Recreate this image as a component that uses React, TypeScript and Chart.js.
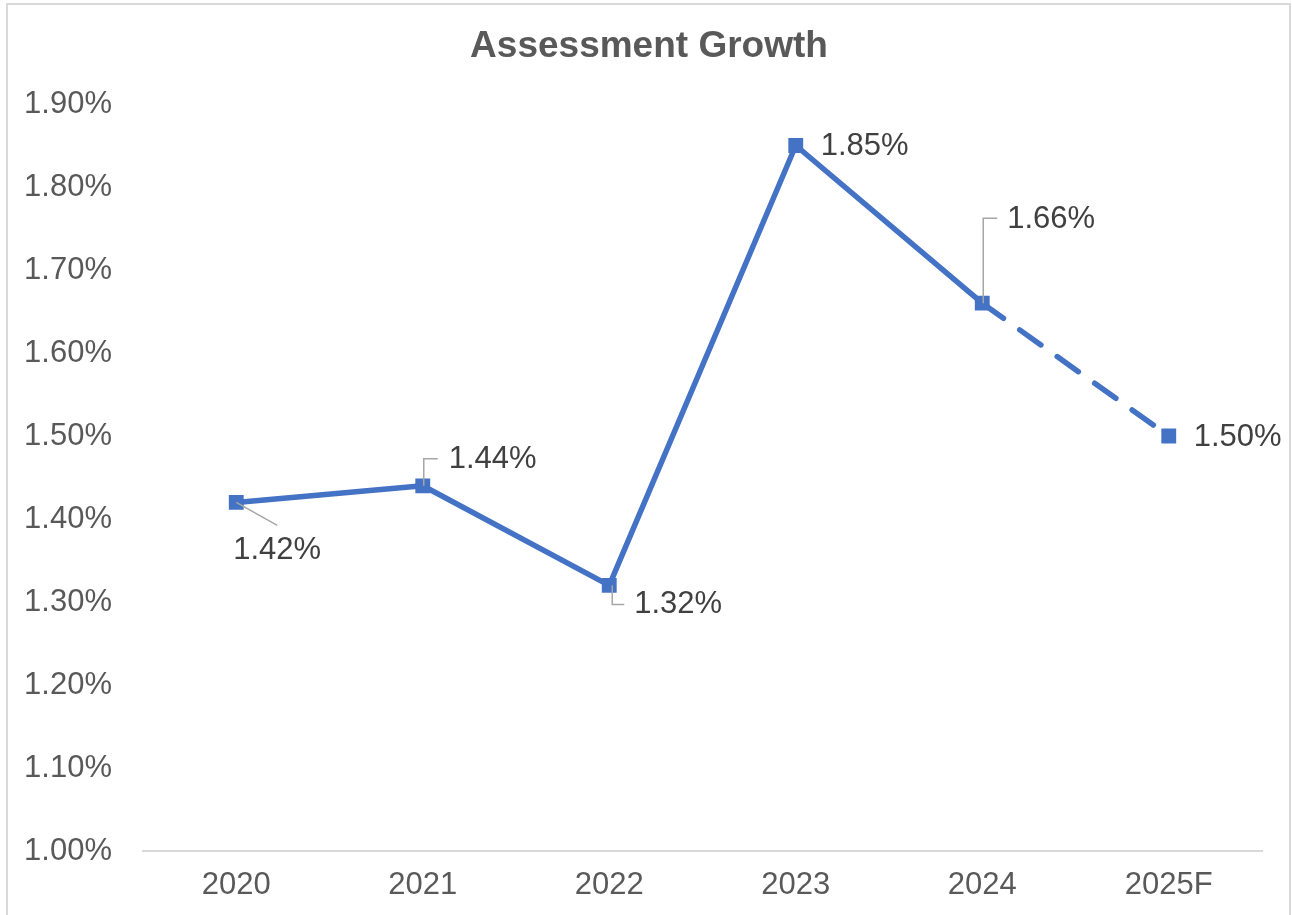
import React, { useEffect, useRef } from "react";
import { Chart, registerables } from "chart.js";

Chart.register(...registerables);

const categories = ["2020", "2021", "2022", "2023", "2024", "2025F"];
const growthValues = [1.42, 1.44, 1.32, 1.85, 1.66, 1.5];
const valueLabels = ["1.42%", "1.44%", "1.32%", "1.85%", "1.66%", "1.50%"];
const chartTitle = "Assessment Growth";
const yMin = 1.0;
const yMax = 1.9;
const yStep = 0.1;
const forecastFromIndex = 4;

// label placement styling (offsets from the point, in px)
const labelStyle = [
  { dx: -3, dy: 48, leader: [[0, 0], [41, 23]] },
  { dx: 26, dy: -26, leader: [[1, 0], [1, -27], [15, -27]] },
  { dx: 25, dy: 19, leader: [[3, 0], [3, 19], [15, 19]] },
  { dx: 25, dy: 1, leader: null },
  { dx: 25, dy: -84, leader: [[1, 0], [1, -85], [15, -85]] },
  { dx: 25, dy: 1, leader: null },
];

const FONT = "'Liberation Sans', Arial, sans-serif";

export default function App() {
  const ref = useRef<HTMLCanvasElement | null>(null);

  useEffect(() => {
    document.body.style.margin = "0";
    document.body.style.overflow = "hidden";
    const canvas = ref.current;
    if (!canvas) return;

    const labelsPlugin = {
      id: "valueLabels",
      afterDatasetsDraw(chart: any) {
        const ctx = chart.ctx;
        const meta = chart.getDatasetMeta(0);
        ctx.save();
        meta.data.forEach((pt: any, i: number) => {
          const st = labelStyle[i];
          const x = pt.x;
          const y = pt.y;
          if (st.leader) {
            ctx.beginPath();
            ctx.strokeStyle = "#a6a6a6";
            ctx.lineWidth = 1.5;
            st.leader.forEach((p: number[], k: number) => {
              if (k === 0) ctx.moveTo(x + p[0], y + p[1]);
              else ctx.lineTo(x + p[0], y + p[1]);
            });
            ctx.stroke();
          }
          ctx.fillStyle = "#404040";
          ctx.font = `31px ${FONT}`;
          ctx.textAlign = "left";
          ctx.textBaseline = "middle";
          ctx.fillText(valueLabels[i], x + st.dx, y + st.dy);
        });
        ctx.restore();
      },
    };

    const frameAndTitlePlugin = {
      id: "frame",
      afterDraw(chart: any) {
        const ctx = chart.ctx;
        ctx.save();
        ctx.strokeStyle = "#d9d9d9";
        ctx.lineWidth = 2;
        ctx.beginPath();
        ctx.moveTo(7, 915);
        ctx.lineTo(7, 4);
        ctx.lineTo(1290, 4);
        ctx.lineTo(1290, 915);
        ctx.stroke();
        ctx.fillStyle = "#595959";
        ctx.font = `bold 37px ${FONT}`;
        ctx.textAlign = "center";
        ctx.textBaseline = "middle";
        ctx.fillText(chartTitle, 649, 47);
        ctx.restore();
      },
    };

    const chart = new Chart(canvas, {
      type: "line",
      data: {
        labels: categories,
        datasets: [
          {
            data: growthValues,
            borderColor: "#4472c4",
            backgroundColor: "#4472c4",
            borderWidth: 5.5,
            pointStyle: "rect",
            pointRadius: 10.5,
            pointBorderWidth: 0,
            borderCapStyle: "round",
            borderJoinStyle: "round",
            tension: 0,
            segment: {
              borderDash: (c: any) => (c.p0DataIndex >= forecastFromIndex ? [26, 20] : undefined),
            },
          },
        ],
      },
      options: {
        animation: false,
        responsive: false,
        devicePixelRatio: 1,
        layout: { padding: { left: 0, right: 30, top: 104, bottom: 0 } },
        plugins: {
          legend: { display: false },
          tooltip: { enabled: false },
          title: { display: false },
        },
        scales: {
          x: {
            offset: true,
            grid: { display: false, drawTicks: false },
            border: { display: true, color: "#d9d9d9", width: 2 },
            ticks: {
              color: "#595959",
              font: { family: FONT, size: 31 },
              padding: 16,
              maxRotation: 0,
            },
            afterFit(scale: any) {
              scale.height = 64;
            },
          },
          y: {
            min: yMin,
            max: yMax,
            grid: { display: false, drawTicks: false },
            border: { display: false },
            ticks: {
              stepSize: yStep,
              color: "#595959",
              font: { family: FONT, size: 31 },
              padding: 31,
              callback: (v: any) => Number(v).toFixed(2) + "%",
            },
            afterFit(scale: any) {
              scale.width = 143;
            },
          },
        },
      },
      plugins: [labelsPlugin, frameAndTitlePlugin],
    });

    return () => chart.destroy();
  }, []);

  return (
    <div style={{ width: 1292, height: 915, background: "#ffffff" }}>
      <canvas ref={ref} width={1292} height={915} style={{ width: 1292, height: 915, display: "block" }} />
    </div>
  );
}
